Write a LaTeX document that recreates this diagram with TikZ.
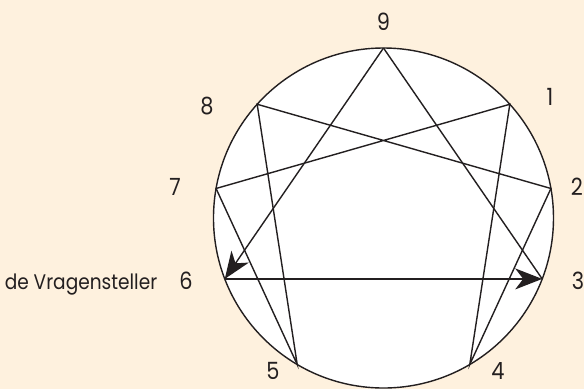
\documentclass[tikz,border=0pt]{standalone}
\usepackage{fontspec}
\newfontfamily\numfont[FakeStretch=0.88]{Poppins}
\usetikzlibrary{arrows.meta,positioning}
\definecolor{peach}{RGB}{254,241,222}
\definecolor{ink}{RGB}{35,31,32}

\begin{document}
\begin{tikzpicture}[>={Stealth[length=0.54cm,width=0.42cm,inset=0.16cm]},
      line width=0.8pt,draw=ink,
      num/.style={font=\numfont\fontsize{13.5}{15}\selectfont,text=ink,inner sep=0.5pt}]
    \fill[peach] (-7.67,-3.42) rectangle (4.01,4.36);
    \useasboundingbox (-7.67,-3.42) rectangle (4.01,4.36);
    \draw[fill=white] (0,0) circle (3.4);
    % points on the circle
    \foreach \n/\a in {9/90,1/42,2/10,3/-21,4/-59.5,5/239.5,6/201,7/170,8/138}
      \coordinate (p\n) at (\a:3.4);
    % hexad and triangle
    \draw (p1) -- (p4) -- (p2) -- (p8) -- (p5) -- (p7) -- cycle;
    \draw (p9) -- (p3);
    \draw[->] (p9) -- (p6);
    \draw[->] (p6) -- (p3);
    % numbers
    \node[num] (l9) at (0,3.92) {9};
    \node[num] (l1) at (3.33,2.42) {1};
    \node[num] (l2) at (3.87,0.62) {2};
    \node[num] (l3) at (3.89,-1.26) {3};
    \node[num] (l4) at (2.29,-3.06) {4};
    \node[num] (l5) at (-2.21,-3.06) {5};
    \node[num] (l6) at (-3.95,-1.26) {6};
    \node[num] (l7) at (-4.17,0.62) {7};
    \node[num] (l8) at (-3.53,2.24) {8};
    \node[num,left=0.38cm of l6.base west,anchor=base east,font=\numfont\fontsize{12}{14}\selectfont] (who) {de Vragensteller};
  \end{tikzpicture}
\end{document}
